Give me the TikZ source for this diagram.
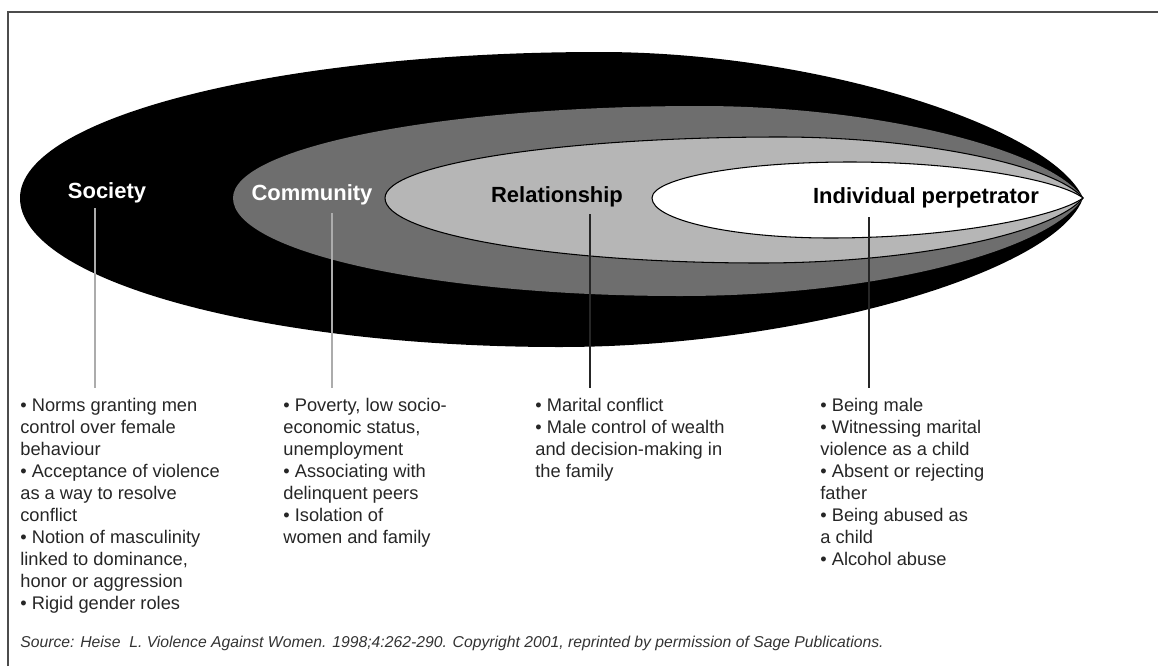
\documentclass[tikz,border=0pt]{standalone}
\usepackage{fontspec}
\setmainfont{Liberation Sans}
\usepackage{xcolor}
\definecolor{community}{HTML}{6E6E6E}
\definecolor{relationship}{HTML}{B6B6B6}
\usepackage{tikz}

\begin{document}
\begin{tikzpicture}[x=0.02cm, y=-0.02cm,
    ringlabel/.style={font=\fontsize{12.5}{15}\selectfont\bfseries, inner sep=2pt},
    bullets/.style={anchor=north west, align=left, inner sep=0pt, text=black!85,
                    font=\fontsize{10.4}{12.5}\selectfont},
    lead/.style={line width=0.7pt, shorten >=5.5pt}]
            \useasboundingbox (0, 0) rectangle (1158, 666);

            % frame (only the top and left edges show)
            \draw[line width=1.1pt, black!70] (8, 666) -- (8, 12) -- (1158, 12);

            % the four nested rings, all meeting at the right tip
            \fill[black] (1083, 198) .. controls (1052, 128) and (820, 52) .. (600, 52)
                .. controls (280, 52) and (20, 117) .. (20, 198)
                .. controls (20, 280) and (262, 347) .. (560, 347)
                .. controls (800, 347) and (1057, 272) .. (1083, 198) -- cycle;
            \fill[community] (1083, 198) .. controls (1050, 150) and (880, 106) .. (700, 106)
                .. controls (442, 106) and (233, 147) .. (233, 198)
                .. controls (233, 252) and (433, 296) .. (680, 296)
                .. controls (880, 296) and (1050, 250) .. (1083, 198) -- cycle;
            \filldraw[fill=relationship, draw=black, line width=0.6pt]
                (1083, 198) .. controls (1055, 165) and (920, 137) .. (780, 137)
                .. controls (562, 137) and (385, 164) .. (385, 198)
                .. controls (385, 234) and (553, 263) .. (760, 263)
                .. controls (920, 263) and (1055, 232) .. (1083, 198) -- cycle;
            \filldraw[fill=white, draw=black, line width=0.6pt]
                (1083, 198) .. controls (1060, 180) and (960, 162) .. (850, 162)
                .. controls (741, 162) and (652, 178) .. (652, 198)
                .. controls (652, 220) and (732, 238) .. (830, 238)
                .. controls (960, 238) and (1060, 215) .. (1083, 198) -- cycle;

            \node[ringlabel, text=white] (society) at (107, 193) {Society};
            \node[ringlabel, text=white] (community) at (312, 195) {Community};
            \node[ringlabel] (relationship) at (557, 197) {Relationship};
            \node[ringlabel] (individual) at (926, 198) {Individual perpetrator};

            \node[bullets] (societyList) at (20, 398) {• Norms granting men\\control over female\\behaviour\\• Acceptance of violence\\as a way to resolve\\conflict\\• Notion of masculinity\\linked to dominance,\\honor or aggression\\• Rigid gender roles};
            \node[bullets] (communityList) at (283, 398) {• Poverty, low socio-\\economic status,\\unemployment\\• Associating with\\delinquent peers\\• Isolation of\\women and family};
            \node[bullets] (relationshipList) at (535, 398) {• Marital conflict\\• Male control of wealth\\and decision-making in\\the family};
            \node[bullets] (individualList) at (820, 398) {• Being male\\• Witnessing marital\\violence as a child\\• Absent or rejecting\\father\\• Being abused as\\a child\\• Alcohol abuse};

            \coordinate (societyFoot) at (95, 208);
            \coordinate (communityFoot) at (332, 213);
            \coordinate (relationshipFoot) at (590, 214);
            \coordinate (individualFoot) at (869, 217);

            \draw[lead, gray!65] (societyFoot) -- (societyFoot |- societyList.north);
            \draw[lead, gray!65] (communityFoot) -- (communityFoot |- communityList.north);
            \draw[lead, black!85] (relationshipFoot) -- (relationshipFoot |- relationshipList.north);
            \draw[lead, black!85] (individualFoot) -- (individualFoot |- individualList.north);

            \node[anchor=west, inner sep=0pt, text=black!80, font=\fontsize{8.95}{11}\selectfont\itshape]
                (source) at (20, 643) {Source: Heise~ L. Violence Against Women. 1998;4:262-290. Copyright 2001, reprinted by permission of Sage Publications.};
\end{tikzpicture}
\end{document}
